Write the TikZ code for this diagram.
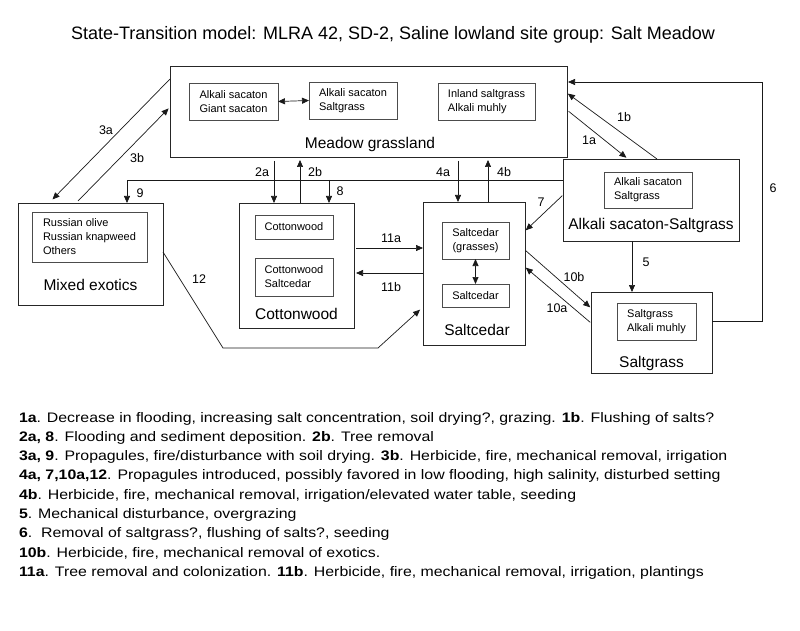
\documentclass[tikz,border=0pt]{standalone}
\usepackage{fontspec}
\setmainfont{Liberation Sans}
\newfontfamily\keyfont{Liberation Sans}[FakeStretch=1.15]
\usetikzlibrary{arrows.meta,positioning}
\tikzset{
    state box/.style = {
        draw = black!85,
        line width = 0.8pt,
        },
    inner box/.style = {
        draw = black!70,
        line width = 0.8pt,
        align = left,
        font = \fontsize{11}{14}\selectfont,
        },
    state name/.style = {
        anchor = base,
        font = \fontsize{15.5}{18}\selectfont,
        },
    trans/.style = {
        draw = black!90,
        line width = 0.7pt,
        },
    lbl/.style = {
        font = \fontsize{12.5}{14}\selectfont,
        },
    legend/.style = {
        anchor = base west,
        font = \keyfont\fontsize{13.8}{16}\selectfont,
        },
}

\begin{document}
\begin{tikzpicture}[
                x=1pt, y=-1pt,
                >={Triangle[length=7pt,width=6pt]},
                every node/.style={inner sep=0pt, outer sep=0pt},
            ]
            \useasboundingbox (0,0) rectangle (800,631);

            \node[anchor=base, font=\fontsize{18}{21}\selectfont] (title) at (393,40)
                {State-Transition model: MLRA 42, SD-2, Saline lowland site group: Salt Meadow};

            % states
            \node[state box, minimum width=397pt, minimum height=91pt] (meadow) at (368.5,111.5) {};
            \node[inner box, minimum width=89pt, minimum height=37pt] (mA) at (233.5,101.5) {Alkali sacaton\\Giant sacaton};
            \node[inner box, minimum width=88pt, minimum height=37pt] (mB) at (353,100.5) {Alkali sacaton\\Saltgrass};
            \node[inner box, minimum width=97pt, minimum height=37pt] (mC) at (486.5,101.5) {Inland saltgrass\\Alkali muhly};
            \node[state name] (meadowname) at ([xshift=1.5pt,yshift=8pt]meadow.south) {Meadow grassland};

            \node[state box, minimum width=145pt, minimum height=102pt] (mixed) at (90.5,254) {};
            \node[inner box, minimum width=115pt, minimum height=50pt] (mxA) at (89.5,237) {Russian olive\\Russian knapweed\\Others};
            \node[state name] (mixedname) at ([yshift=15pt]mixed.south) {Mixed exotics};

            \node[state box, minimum width=115pt, minimum height=125pt] (cotton) at (296.5,265.5) {};
            \node[inner box, minimum width=78pt, minimum height=24pt] (cwA) at (294,227) {Cottonwood};
            \node[inner box, minimum width=78pt, minimum height=38pt] (cwB) at (294,277) {Cottonwood\\Saltcedar};
            \node[state name] (cottonname) at ([yshift=8.5pt]cotton.south) {Cottonwood};

            \node[state box, minimum width=102pt, minimum height=143pt] (saltcedar) at (474,273.5) {};
            \node[inner box, minimum width=67pt, minimum height=37pt, align=center] (scA) at (475.5,240.5) {Saltcedar\\(grasses)};
            \node[inner box, minimum width=67pt, minimum height=23pt] (scB) at (475.5,295.5) {Saltcedar};
            \node[state name] (saltcedarname) at ([xshift=3pt,yshift=9.5pt]saltcedar.south) {Saltcedar};

            \node[state box, minimum width=176pt, minimum height=82pt] (alkali) at (651,200) {};
            \node[inner box, minimum width=88pt, minimum height=36pt] (akA) at (648,190) {Alkali sacaton\\Saltgrass};
            \node[state name] (alkaliname) at ([yshift=11.5pt]alkali.south) {Alkali sacaton-Saltgrass};

            \node[state box, minimum width=121pt, minimum height=81pt] (saltgrass) at (651.5,332.5) {};
            \node[inner box, minimum width=79pt, minimum height=37pt] (sgA) at (656.5,321.5) {Saltgrass\\Alkali muhly};
            \node[state name] (saltgrassname) at ([yshift=5.5pt]saltgrass.south) {Saltgrass};

            % transitions
            \draw[trans, <->] (mA.east) -- (mB.west);
            \draw[trans, <->] (scA.south) -- (scB.north);

            \draw[trans, ->, shorten >=5pt] ([yshift=-13pt]meadow.north west) -- ([xshift=-41.5pt]mixed.north);
            \draw[trans, ->, shorten <=3pt, shorten >=2pt] ([xshift=-14.5pt]mixed.north) -- ([yshift=-41pt]meadow.north west);
            \draw[trans, ->] ([yshift=20pt]alkali.west) -| ([xshift=36.5pt]mixed.north);
            \draw[trans, ->] ([xshift=32.5pt,yshift=23pt]cotton.north) -- ([xshift=32.5pt]cotton.north);
            \draw[trans, ->, shorten <=4pt] ([xshift=-22.5pt]cotton.north |- meadow.south) -- ([xshift=-22.5pt]cotton.north);
            \draw[trans, ->, shorten >=3pt] ([xshift=3.5pt]cotton.north) -- ([xshift=3.5pt]cotton.north |- meadow.south);
            \draw[trans, ->, shorten <=4pt] ([xshift=-16pt]saltcedar.north |- meadow.south) -- ([xshift=-16pt]saltcedar.north);
            \draw[trans, ->, shorten >=3pt] ([xshift=14pt]saltcedar.north) -- ([xshift=14pt]saltcedar.north |- meadow.south);
            \draw[trans, ->, shorten <=2pt, shorten >=2pt] ([yshift=1.5pt]meadow.east) -- ([xshift=-23pt]alkali.north);
            \draw[trans, ->, shorten >=1pt] ([xshift=6pt]alkali.north) -- ([yshift=18.5pt]meadow.east);
            \draw[trans, ->, shorten >=1pt] ([yshift=11.5pt]saltgrass.east) -- ++(50,0) |- ([yshift=29.5pt]meadow.east);
            \draw[trans, ->] ([xshift=-19pt]alkali.south) -- ([xshift=-19pt]alkali.south |- saltgrass.north);
            \draw[trans, ->, shorten <=1pt, shorten >=1pt] ([yshift=5pt]alkali.west) -- ([yshift=42.5pt]saltcedar.east);
            \draw[trans, ->, shorten <=1pt, shorten >=1pt] ([yshift=23.5pt]saltcedar.east) -- ([yshift=24.5pt]saltgrass.west);
            \draw[trans, ->, shorten <=1pt, shorten >=1pt] ([yshift=9.5pt]saltgrass.west) -- ([yshift=6.5pt]saltcedar.east);
            \draw[trans, ->, shorten <=2pt] ([yshift=17.5pt]cotton.east) -- ([yshift=17.5pt]cotton.east -| saltcedar.west);
            \draw[trans, ->, shorten >=2pt] ([yshift=-7.5pt]cotton.east -| saltcedar.west) -- ([yshift=-7.5pt]cotton.east);
            \draw[trans, ->, shorten >=4pt] ([yshift=2pt]mixed.east) -- ++(60,96) -- ++(155,0) -- ([yshift=-33.5pt]saltcedar.west);

            % transition numbers
            \node[lbl] (l1a) at (589,140) {1a};
            \node[lbl] (l1b) at (624,117) {1b};
            \node[lbl] (l2a) at (262,172) {2a};
            \node[lbl] (l2b) at (315,172) {2b};
            \node[lbl] (l3a) at (106,130) {3a};
            \node[lbl] (l3b) at (137,158) {3b};
            \node[lbl] (l4a) at (443,172) {4a};
            \node[lbl] (l4b) at (504,172) {4b};
            \node[lbl] (l5) at (646,262) {5};
            \node[lbl] (l6) at (773,188) {6};
            \node[lbl] (l7) at (541,202) {7};
            \node[lbl] (l8) at (340,191) {8};
            \node[lbl] (l9) at (140,193) {9};
            \node[lbl] (l10a) at (557,308) {10a};
            \node[lbl] (l10b) at (574,277) {10b};
            \node[lbl] (l11a) at (391,238) {11a};
            \node[lbl] (l11b) at (391,287) {11b};
            \node[lbl] (l12) at (199,279) {12};

            % key
            \node[legend] (leg1) at (19,422) {\textbf{1a}. Decrease in flooding, increasing salt concentration, soil drying?, grazing. \textbf{1b}. Flushing of salts?};
            \node[legend] (leg2) at (19,441.3) {\textbf{2a, 8}. Flooding and sediment deposition. \textbf{2b}. Tree removal};
            \node[legend] (leg3) at (19,460.6) {\textbf{3a, 9}. Propagules, fire/disturbance with soil drying. \textbf{3b}. Herbicide, fire, mechanical removal, irrigation};
            \node[legend] (leg4) at (19,479.9) {\textbf{4a, 7,10a,12}. Propagules introduced, possibly favored in low flooding, high salinity, disturbed setting};
            \node[legend] (leg5) at (19,499.2) {\textbf{4b}. Herbicide, fire, mechanical removal, irrigation/elevated water table, seeding};
            \node[legend] (leg6) at (19,518.5) {\textbf{5}. Mechanical disturbance, overgrazing};
            \node[legend] (leg7) at (19,537.8) {\textbf{6}.\ \ Removal of saltgrass?, flushing of salts?, seeding};
            \node[legend] (leg8) at (19,557.1) {\textbf{10b}. Herbicide, fire, mechanical removal of exotics.};
            \node[legend] (leg9) at (19,576.4) {\textbf{11a}. Tree removal and colonization. \textbf{11b}. Herbicide, fire, mechanical removal, irrigation, plantings};
        \end{tikzpicture}
\end{document}
